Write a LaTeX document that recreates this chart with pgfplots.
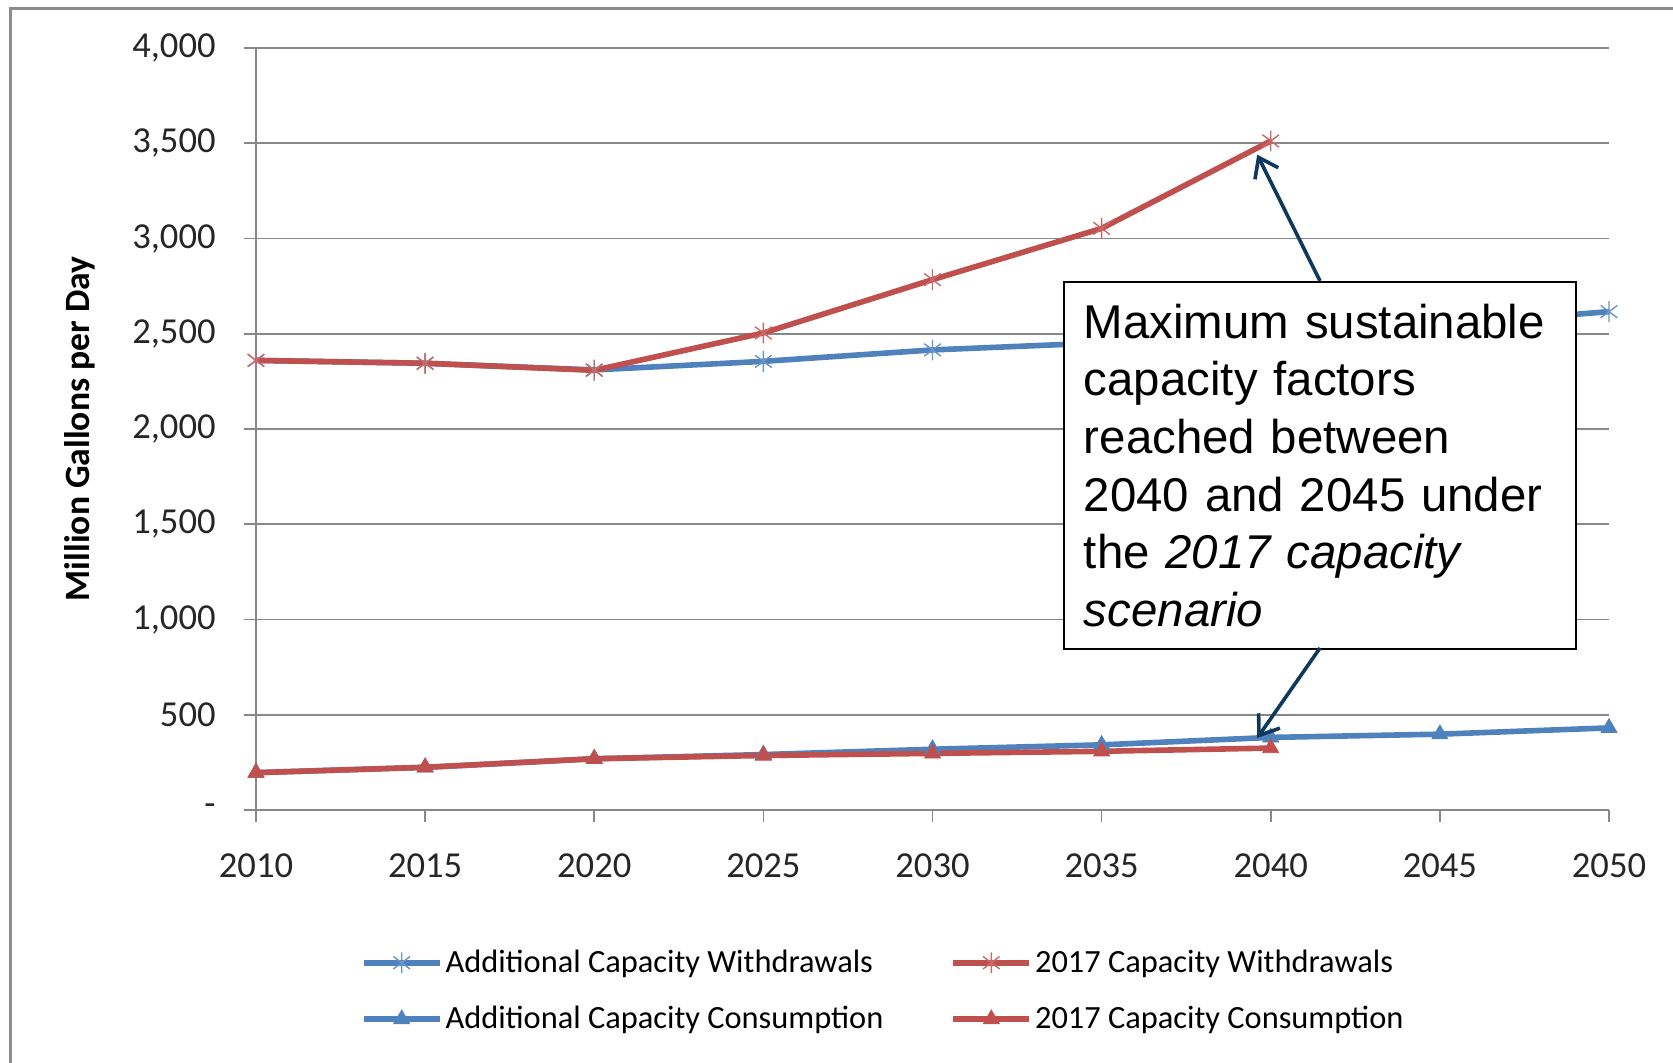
\documentclass[border=0pt]{standalone}
\usepackage{pgfplots}
\pgfplotsset{compat=1.18}
\usepackage{fontspec}
\setmainfont{Carlito}
\newfontfamily\arialfont{Liberation Sans}
\usetikzlibrary{arrows.meta}

\definecolor{blueline}{HTML}{4F81BD}
\definecolor{redline}{HTML}{C0504D}
\definecolor{gridgray}{HTML}{888888}
\definecolor{framegray}{HTML}{8C8C8C}
\definecolor{arrownavy}{HTML}{10385C}

% Excel style asterisk: vertical bar plus an X
\pgfdeclareplotmark{xstar}{%
  \pgfpathmoveto{\pgfpoint{0pt}{\pgfplotmarksize}}%
  \pgfpathlineto{\pgfpoint{0pt}{-\pgfplotmarksize}}%
  \pgfpathmoveto{\pgfpoint{-0.8\pgfplotmarksize}{0.6\pgfplotmarksize}}%
  \pgfpathlineto{\pgfpoint{0.8\pgfplotmarksize}{-0.6\pgfplotmarksize}}%
  \pgfpathmoveto{\pgfpoint{-0.8\pgfplotmarksize}{-0.6\pgfplotmarksize}}%
  \pgfpathlineto{\pgfpoint{0.8\pgfplotmarksize}{0.6\pgfplotmarksize}}%
  \pgfusepathqstroke}

\begin{document}
\begin{tikzpicture}
\useasboundingbox (0,0) rectangle (836.5pt,531.5pt);
\draw[framegray, line width=1.5pt] (5pt,0) -- (5pt,527pt) -- (836.5pt,527pt);
\begin{axis}[
  at={(128pt,126.5pt)}, anchor=south west,
  width=676.5pt, height=381pt, scale only axis,
  xmin=2010, xmax=2050, ymin=0, ymax=4000,
  clip=false,
  axis x line=bottom, axis y line=left,
  axis line style={-, draw=gridgray, line width=0.8pt},
  xtick={2010,2015,...,2050},
  xticklabels={2010,2015,2020,2025,2030,2035,2040,2045,2050},
  ytick={0,500,...,4000},
  yticklabels={-,500,{1,000},{1,500},{2,000},{2,500},{3,000},{3,500},{4,000}},
  tick align=outside, major tick length=6pt,
  tick style={draw=gridgray, line width=0.8pt},
  ymajorgrids, grid style={draw=gridgray, line width=0.8pt},
  tick label style={font=\fontsize{18.3pt}{21pt}\selectfont, text=black!85},
  xticklabel style={anchor=center, yshift=-22pt},
  yticklabel style={anchor=east, inner sep=0pt, xshift=-14pt},
  ylabel={Million Gallons per Day},
  ylabel style={at={(axis description cs:-0.13,0.5)}, anchor=center,
    font=\bfseries\fontsize{17.8pt}{21pt}\selectfont},
  legend columns=2,
  legend style={at={(axis description cs:0.0728,-0.2375)}, anchor=west,
    draw=none, fill=none, column sep=0pt, row sep=15.5pt,
    nodes={inner xsep=1.5pt, inner ysep=0pt},
    font=\fontsize{16.2pt}{19pt}\selectfont},
  legend cell align=left,
  legend image code/.code={%
    \draw[mark repeat=2,mark phase=2] plot coordinates {(0pt,0pt) (19pt,0pt) (38pt,0pt)};},
  every axis plot/.append style={line width=2.8pt},
]
% Additional Capacity Withdrawals
\addplot[blueline, mark=xstar, mark size=5.2pt,
  mark options={solid, draw=blueline!85!white, line width=0.7pt}]
  coordinates {(2010,2360) (2015,2345) (2020,2310) (2025,2355) (2030,2415)
               (2035,2452) (2040,2495) (2045,2545) (2050,2616)};
\addlegendentry{\makebox[251pt][l]{Additional Capacity Withdrawals}}
% 2017 Capacity Withdrawals
\addplot[redline, mark=xstar, mark size=5.2pt,
  mark options={solid, draw=redline!85!white, line width=0.7pt}]
  coordinates {(2010,2360) (2015,2345) (2020,2308) (2025,2504) (2030,2784)
               (2035,3053) (2040,3512)};
\addlegendentry{2017 Capacity Withdrawals}
% Additional Capacity Consumption
\addplot[blueline, mark=triangle*, mark size=4.6pt,
  mark options={solid, fill=blueline, draw=blueline, line width=0.4pt}]
  coordinates {(2010,196) (2015,224) (2020,269) (2025,291) (2030,319)
               (2035,342) (2040,381) (2045,398) (2050,431)};
\addlegendentry{\makebox[251pt][l]{Additional Capacity Consumption}}
% 2017 Capacity Consumption
\addplot[redline, mark=triangle*, mark size=4.6pt,
  mark options={solid, fill=redline, draw=redline, line width=0.4pt}]
  coordinates {(2010,196) (2015,224) (2020,269) (2025,286) (2030,297)
               (2035,308) (2040,325)};
\addlegendentry{2017 Capacity Consumption}
\coordinate (tipA) at (axis cs:2039.6,3440);
\coordinate (tipB) at (axis cs:2039.6,378);
\end{axis}
\node[draw=black, line width=0.9pt, fill=white, anchor=north west,
  minimum width=256pt, minimum height=183.5pt, text width=236pt,
  inner xsep=10pt, align=left,
  font=\arialfont\fontsize{23.7pt}{28.8pt}\selectfont]
  at (531.5pt,391pt)
  {Maximum sustainable\\capacity factors\\reached between\\2040 and 2045 under\\the \textit{2017 capacity}\\\textit{scenario}};
\draw[arrownavy, line width=1.8pt, -{Straight Barb[length=9pt,width=13pt]}]
  (660pt,391pt) -- (tipA);
\draw[arrownavy, line width=1.8pt, -{Straight Barb[length=9pt,width=13pt]}]
  (660pt,207.5pt) -- (tipB);
\end{tikzpicture}
\end{document}
